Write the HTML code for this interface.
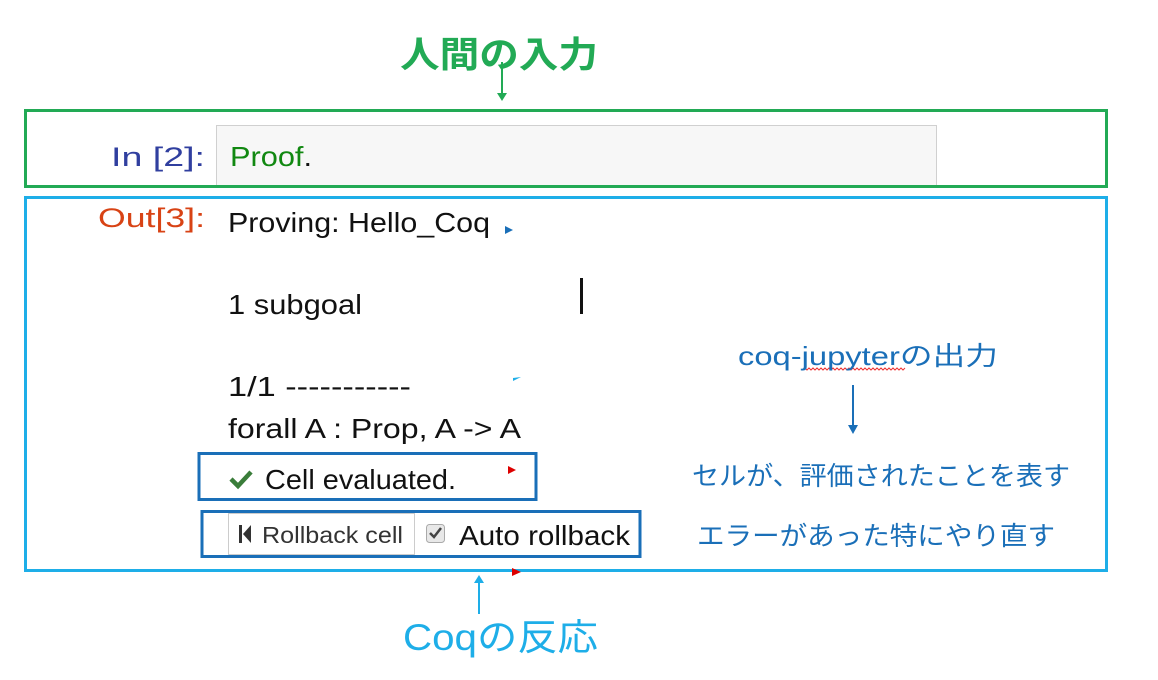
<!DOCTYPE html>
<html><head><meta charset="utf-8"><style>
body{margin:0;width:1158px;height:680px;background:#fff;position:relative;overflow:hidden}
svg{position:absolute;left:0;top:0}
text{font-family:"Liberation Sans","Noto Sans CJK JP",sans-serif}
</style></head><body>
<svg width="1158" height="680">
<line x1="502" y1="62" x2="502" y2="94" stroke="#22aa55" stroke-width="2"/>
<polygon points="497,93 507,93 502,101" fill="#22aa55"/>
<rect x="216.5" y="125.5" width="720" height="60" fill="#f7f7f7" stroke="#d0d0d0" stroke-width="1"/>
<rect x="25.5" y="110.5" width="1081" height="76" fill="none" stroke="#22aa55" stroke-width="3"/>
<rect x="25.5" y="197.5" width="1081" height="373" fill="none" stroke="#1eaee8" stroke-width="3"/>
<rect x="199" y="453.5" width="337" height="46" fill="none" stroke="#1a6fb8" stroke-width="3"/>
<rect x="202" y="511.5" width="438" height="45" fill="none" stroke="#1a6fb8" stroke-width="3"/>
<rect x="228.5" y="513.5" width="186" height="41" fill="#fff" stroke="#ccc"/>
<rect x="426.5" y="524.5" width="18" height="18" rx="3" fill="#e8e8e8" stroke="#aaa"/>
<path d="M430 533 l4 4 l7 -9" stroke="#444" stroke-width="2.5" fill="none"/>
<rect x="239" y="525" width="3" height="18" fill="#333"/><polygon points="243,534 251,525 251,543" fill="#333"/>
<path d="M231 479 l7 7 l13 -14" stroke="#3a7d3a" stroke-width="4.5" fill="none"/>
<polygon points="505,226 513,230 505,234" fill="#1a6fb8"/>
<polygon points="508,466 516,470 508,474" fill="#d00"/>
<polygon points="512,568 521,572 512,576" fill="#d00"/>
<polygon points="513,378 521,377 513,381" fill="#1eaee8"/>
<rect x="580" y="278" width="3" height="36" fill="#111"/>
<line x1="853" y1="385" x2="853" y2="426" stroke="#1a6fb8" stroke-width="2"/>
<polygon points="848,425 858,425 853,434" fill="#1a6fb8"/>
<line x1="479" y1="614" x2="479" y2="582" stroke="#1eaee8" stroke-width="2"/>
<polygon points="474,583 484,583 479,575" fill="#1eaee8"/>
<path d="M803 370 l2 -2 l2 2 l2 -2 l2 2 l2 -2 l2 2 l2 -2 l2 2 l2 -2 l2 2 l2 -2 l2 2 l2 -2 l2 2 l2 -2 l2 2 l2 -2 l2 2 l2 -2 l2 2 l2 -2 l2 2 l2 -2 l2 2 l2 -2 l2 2 l2 -2 l2 2 l2 -2 l2 2 l2 -2 l2 2 l2 -2 l2 2 l2 -2 l2 2 l2 -2 l2 2 l2 -2 l2 2 l2 -2 l2 2 l2 -2 l2 2 l2 -2 l2 2 l2 -2 l2 2 l2 -2 l2 2 l2 -2" stroke="#e33" stroke-width="1" fill="none"/>

<text x="400" y="67" font-size="36" font-weight="bold" fill="#22aa55" textLength="198" lengthAdjust="spacingAndGlyphs">人間の入力</text>
<text x="111" y="166" font-size="27" fill="#303f9f" textLength="94" lengthAdjust="spacingAndGlyphs">In [2]:</text>
<text x="230" y="166" font-size="28" fill="#118811" textLength="82" lengthAdjust="spacingAndGlyphs">Proof<tspan fill="#111">.</tspan></text>
<text x="98" y="227" font-size="27" fill="#d84315" textLength="107" lengthAdjust="spacingAndGlyphs">Out[3]:</text>
<g font-size="28" fill="#111">
<text x="228" y="232" textLength="262" lengthAdjust="spacingAndGlyphs">Proving: Hello_Coq</text>
<text x="228" y="314" textLength="134" lengthAdjust="spacingAndGlyphs">1 subgoal</text>
<text x="228" y="396" textLength="183" lengthAdjust="spacingAndGlyphs">1/1 -----------</text>
<text x="228" y="438" textLength="293" lengthAdjust="spacingAndGlyphs">forall A : Prop, A -&gt; A</text>
<text x="265" y="489" textLength="191" lengthAdjust="spacingAndGlyphs">Cell evaluated.</text>
<text x="459" y="545" textLength="171" lengthAdjust="spacingAndGlyphs">Auto rollback</text>
</g>
<text x="262" y="543" font-size="23" fill="#333" textLength="141" lengthAdjust="spacingAndGlyphs">Rollback cell</text>
<g font-size="26" fill="#1a6fb8">
<text x="738" y="365" textLength="260" lengthAdjust="spacingAndGlyphs">coq-jupyterの出力</text>
<text x="692" y="485" textLength="378" lengthAdjust="spacingAndGlyphs">セルが、評価されたことを表す</text>
<text x="697" y="545" textLength="358" lengthAdjust="spacingAndGlyphs">エラーがあった特にやり直す</text>
</g>
<text x="403" y="650" font-size="37" fill="#1eaee8" textLength="195" lengthAdjust="spacingAndGlyphs">Coqの反応</text>
</svg>
</body></html>
